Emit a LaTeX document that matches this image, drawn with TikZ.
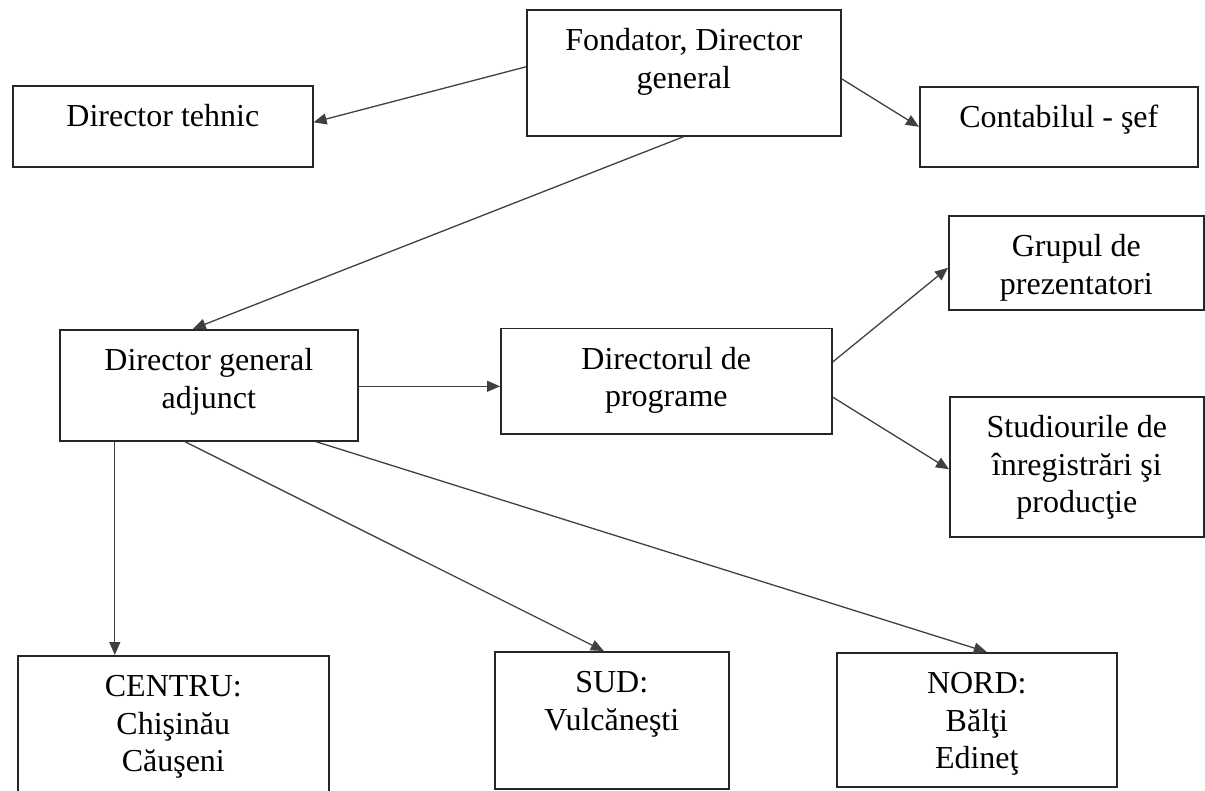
\documentclass[tikz,border=0pt]{standalone}
\usepackage{fontspec}
\setmainfont{Liberation Serif}
\usetikzlibrary{arrows.meta}
\newcommand{\btext}[3]{\parbox[c][#2][t]{#1}{\centering\fontsize{32pt}{37.5pt}\selectfont\rule{0pt}{41pt}#3\par}}
\tikzset{
  box/.style={draw=black!85, line width=1.6pt, inner sep=0pt, anchor=north west},
  conn/.style={draw=black!75, line width=1.3pt, -{Triangle[length=13pt,width=11pt]}}
}
\begin{document}
\begin{tikzpicture}[x=1pt,y=-1pt]
\useasboundingbox (0,0) rectangle (1205,790);
\node[box] (f)  at (526,9)   {\btext{314pt}{126pt}{Fondator, Director\\general}};
\node[box] (t)  at (12,85)   {\btext{300pt}{81pt}{Director tehnic}};
\node[box] (c)  at (919,86)  {\btext{278pt}{80pt}{Contabilul - şef}};
\node[box] (d)  at (59,329)  {\btext{298pt}{111pt}{Director general\\adjunct}};
\node[box] (p)  at (500,327.5) {\btext{331pt}{105.5pt}{Directorul de\\programe}};
\node[box] (g)  at (948,215) {\btext{255pt}{94pt}{Grupul de\\prezentatori}};
\node[box] (s)  at (949,396) {\btext{254pt}{140pt}{Studiourile de\\înregistrări şi\\producţie}};
\node[box] (ce) at (17,655)  {\btext{311pt}{150pt}{CENTRU:\\Chişinău\\Căuşeni}};
\node[box] (su) at (494,651) {\btext{234pt}{137pt}{SUD:\\Vulcăneşti}};
\node[box] (n)  at (836,652) {\btext{280pt}{134pt}{NORD:\\Bălţi\\Edineţ}};
\draw[conn] ([yshift=6pt]f.west) -- ([yshift=4pt]t.east);
\draw[conn] ([yshift=-6pt]f.east) -- (c.west);
\draw[conn] (f.south) -- ([xshift=-16pt]d.north);
\draw[conn] ([yshift=-1pt]d.east) -- ([yshift=-1pt]d.east -| p.west);
\draw[conn] ([yshift=19pt]p.east) -- ([yshift=-5pt]g.west);
\draw[conn] ([yshift=-16pt]p.east) -- ([yshift=-2.5pt]s.west);
\draw[conn] ([xshift=-94pt]d.south) -- ([xshift=-94pt]d.south |- ce.north);
\draw[conn] ([xshift=-24pt]d.south) -- ([xshift=-8pt]su.north);
\draw[conn] ([xshift=107pt]d.south) -- ([xshift=10pt]n.north);
\end{tikzpicture}
\end{document}
